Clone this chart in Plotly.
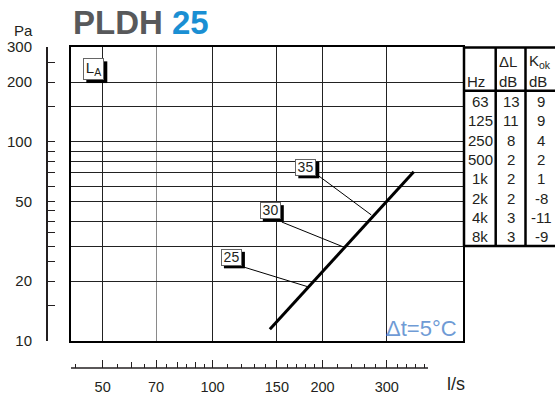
import numpy as np
import plotly.graph_objects as go

# ---------------- data ----------------
flow_q = [143.5, 355.6]          # l/s
pressure_pa = [11.45, 70.9]      # Pa

label_names = ["25", "30", "35"]
label_q = [112.6, 143.9, 180.0]
label_p = [26.4, 45.3, 74.8]
leader_from_q = [121.0, 154.7, 195.5]
leader_from_p = [23.6, 39.6, 67.4]
leader_to_q = [182.0, 227.0, 272.0]
leader_to_p = [18.75, 29.8, 43.0]

table_hz = ["63", "125", "250", "500", "1k", "2k", "4k", "8k"]
table_dl = [13, 11, 8, 2, 2, 2, 3, 3]
table_kok = [9, 9, 4, 2, 1, -8, -11, -9]

x_major = [50, 70, 100, 150, 200, 300]
x_medium = [60, 80, 90]
x_minor = [42, 55, 65, 75, 85, 95, 110, 120, 130, 140, 160, 170, 180, 190,
           220, 240, 260, 280, 320, 340, 360, 380]
y_major = [10, 20, 50, 100, 200, 300]
y_minor = [15, 25, 30, 35, 40, 45, 60, 70, 80, 90, 150, 250]
grid_q = [50, 100, 150, 200, 300]
grid_q_light = [70]
grid_p = [20, 30, 40, 50, 60, 70, 80, 90, 100, 150, 200]

# ---------------- geometry helpers ----------------
W, H = 555, 401
PL, PR, PT, PB = 71, 463, 47, 341   # plot area in pixels
def px(x):
    return x / W
def py(y):
    return 1 - y / H

XR = [np.log10(40.95), np.log10(485)]
YR = [1, np.log10(300)]

def q_to_pix(q):
    return PL + (np.log10(q) - XR[0]) / (XR[1] - XR[0]) * (PR - PL)
def p_to_pix(p):
    return PB - (np.log10(p) - YR[0]) / (YR[1] - YR[0]) * (PB - PT)

FONT = "Arial, Liberation Sans, sans-serif"
INK = "#231f20"

fig = go.Figure()
fig.add_trace(go.Scatter(x=flow_q, y=pressure_pa, mode="lines",
                         line=dict(color="black", width=3),
                         hoverinfo="skip", showlegend=False))
for i in range(len(label_names)):
    fig.add_trace(go.Scatter(x=[leader_from_q[i], leader_to_q[i]],
                             y=[leader_from_p[i], leader_to_p[i]],
                             mode="lines", line=dict(color="black", width=1),
                             hoverinfo="skip", showlegend=False))
# invisible traces to bind auxiliary axes
fig.add_trace(go.Scatter(x=flow_q, y=pressure_pa, xaxis="x2", yaxis="y2",
                         mode="lines", opacity=0, hoverinfo="skip", showlegend=False))
fig.add_trace(go.Scatter(x=flow_q, y=pressure_pa, xaxis="x3", yaxis="y",
                         mode="lines", opacity=0, hoverinfo="skip", showlegend=False))

fig.update_layout(
    width=W, height=H, autosize=False,
    margin=dict(l=0, r=0, t=0, b=0, pad=0),
    paper_bgcolor="white", plot_bgcolor="white",
    font=dict(family=FONT, color=INK),
    showlegend=False,
    xaxis=dict(type="log", domain=[px(PL), px(PR)], range=XR, automargin=False,
               tickmode="array", tickvals=grid_q, showticklabels=False, ticks="",
               showgrid=True, gridcolor="#222222", gridwidth=1,
               minor=dict(tickmode="array", tickvals=grid_q_light, showgrid=True,
                          gridcolor="#8a8a8a", gridwidth=1.3, ticks=""),
               showline=True, mirror=True, linecolor="black", linewidth=2,
               zeroline=False, anchor="y", fixedrange=True),
    yaxis=dict(type="log", domain=[py(PB), py(PT)], range=YR, automargin=False,
               tickmode="array", tickvals=grid_p, showticklabels=False, ticks="",
               showgrid=True, gridcolor="#222222", gridwidth=1,
               showline=True, mirror=True, linecolor="black", linewidth=2,
               zeroline=False, anchor="x", fixedrange=True),
    xaxis2=dict(type="log", overlaying="x", anchor="free", position=py(368),
                range=XR, automargin=False, tickmode="array", tickvals=x_major,
                ticktext=[str(v) for v in x_major],
                ticks="inside", ticklen=8, tickwidth=1, tickcolor=INK,
                minor=dict(tickmode="array", tickvals=x_minor, ticks="inside",
                           ticklen=4, tickwidth=1, tickcolor=INK, showgrid=False),
                showline=False, showgrid=False, zeroline=False,
                tickfont=dict(size=14.5, color=INK), ticklabelstandoff=8,
                fixedrange=True),
    xaxis3=dict(type="log", overlaying="x", anchor="free", position=py(368),
                range=XR, automargin=False, tickmode="array", tickvals=x_medium,
                showticklabels=False,
                ticks="inside", ticklen=6, tickwidth=1, tickcolor=INK,
                showline=False, showgrid=False, zeroline=False, fixedrange=True),
    yaxis2=dict(type="log", overlaying="y", anchor="free", position=px(47),
                side="left", range=YR, automargin=False, tickmode="array",
                tickvals=y_major, ticktext=[str(v) for v in y_major],
                ticks="inside", ticklen=7, tickwidth=1.2, tickcolor=INK,
                minor=dict(tickmode="array", tickvals=y_minor, ticks="inside",
                           ticklen=7, tickwidth=1.2, tickcolor=INK, showgrid=False),
                showline=True, linecolor=INK, linewidth=2,
                showgrid=False, zeroline=False,
                tickfont=dict(size=15, color=INK), ticklabelstandoff=11,
                fixedrange=True),
)

shapes = []
# bottom flow-axis line
shapes.append(dict(type="line", xref="paper", yref="paper",
                   x0=px(71), x1=px(428), y0=py(368), y1=py(368),
                   line=dict(color=INK, width=1.5)))
# white patch behind delta-t text
shapes.append(dict(type="rect", xref="paper", yref="paper", layer="between",
                   x0=px(385), x1=px(461), y0=py(339.5), y1=py(315),
                   fillcolor="white", line=dict(width=0)))
# table lines
for xv in [464, 495.7, 525.5]:
    shapes.append(dict(type="line", xref="paper", yref="paper",
                       x0=px(xv), x1=px(xv), y0=py(47), y1=py(246),
                       line=dict(color="black", width=2.5)))
for yv in [47.5, 90.7, 246]:
    shapes.append(dict(type="line", xref="paper", yref="paper",
                       x0=px(463), x1=px(556), y0=py(yv), y1=py(yv),
                       line=dict(color="black", width=2.5)))

def shadow_rect(cx, cy, w, h, off=3):
    return dict(type="rect", xref="paper", yref="paper", layer="above",
                x0=px(cx - w / 2 + off), x1=px(cx + w / 2 + off),
                y0=py(cy + h / 2 + off), y1=py(cy - h / 2 + off),
                fillcolor="black", line=dict(width=0))

LABEL_W, LABEL_H = 21, 16.5
for i in range(len(label_names)):
    shapes.append(shadow_rect(q_to_pix(label_q[i]), p_to_pix(label_p[i]),
                              LABEL_W, LABEL_H))
LA_CX, LA_CY = 93.8, 69.2
shapes.append(shadow_rect(LA_CX, LA_CY, 21, 21.7))
fig.update_layout(shapes=shapes)

ann = []
# title
ann.append(dict(xref="paper", yref="paper", x=px(71), y=py(23),
                xanchor="left", yanchor="middle", showarrow=False,
                text="<b>PLDH</b> <b><span style='color:#1a8fd3'>25</span></b>",
                font=dict(size=33, color="#58595b", family=FONT)))
ann.append(dict(xref="paper", yref="paper", x=px(23.5), y=py(30),
                xanchor="center", yanchor="middle", showarrow=False,
                text="Pa", font=dict(size=15, color=INK)))
ann.append(dict(xref="paper", yref="paper", x=px(456), y=py(384),
                xanchor="center", yanchor="middle", showarrow=False,
                text="l/s", font=dict(size=18, color=INK)))
ann.append(dict(xref="paper", yref="paper", x=px(459), y=py(328),
                xanchor="right", yanchor="middle", showarrow=False,
                text="Δt=5°C", font=dict(size=22, color="#6f9bd5")))
# L_A box
ann.append(dict(xref="paper", yref="paper", x=px(LA_CX), y=py(LA_CY),
                xanchor="center", yanchor="middle", showarrow=False,
                text="L<sub>A</sub>", width=17, height=17.7, align="center",
                font=dict(size=15, color=INK),
                bgcolor="white", bordercolor="#666666",
                borderwidth=1, borderpad=1))
# curve labels
for i, name in enumerate(label_names):
    ann.append(dict(xref="x", yref="y",
                    x=np.log10(label_q[i]), y=np.log10(label_p[i]),
                    xanchor="center", yanchor="middle", showarrow=False,
                    text=name, width=LABEL_W - 4, height=LABEL_H - 4,
                    font=dict(size=14, color=INK),
                    bgcolor="white", bordercolor="#666666",
                    borderwidth=1, borderpad=1))
# table header
TF = 15
ann.append(dict(xref="paper", yref="paper", x=px(465), y=py(81.5), xanchor="left",
                yanchor="middle", showarrow=False, text="Hz", font=dict(size=TF)))
ann.append(dict(xref="paper", yref="paper", x=px(497), y=py(81.5), xanchor="left",
                yanchor="middle", showarrow=False, text="dB", font=dict(size=TF)))
ann.append(dict(xref="paper", yref="paper", x=px(527), y=py(81.5), xanchor="left",
                yanchor="middle", showarrow=False, text="dB", font=dict(size=TF)))
ann.append(dict(xref="paper", yref="paper", x=px(497), y=py(61.5), xanchor="left",
                yanchor="middle", showarrow=False, text="ΔL", font=dict(size=TF)))
ann.append(dict(xref="paper", yref="paper", x=px(527), y=py(61.5), xanchor="left",
                yanchor="middle", showarrow=False, text="K<sub>ok</sub>",
                font=dict(size=TF)))
for i in range(len(table_hz)):
    yy = py(101.5 + 19.35 * i)
    for xc, txt in [(480, table_hz[i]), (511, str(table_dl[i])), (541, str(table_kok[i]))]:
        ann.append(dict(xref="paper", yref="paper", x=px(xc), y=yy,
                        xanchor="center", yanchor="middle", showarrow=False,
                        text=txt, font=dict(size=TF, color=INK)))
fig.update_layout(annotations=ann)

fig.write_html("out.html", config={"displayModeBar": False},
               post_script="document.body.style.margin='0px';")
